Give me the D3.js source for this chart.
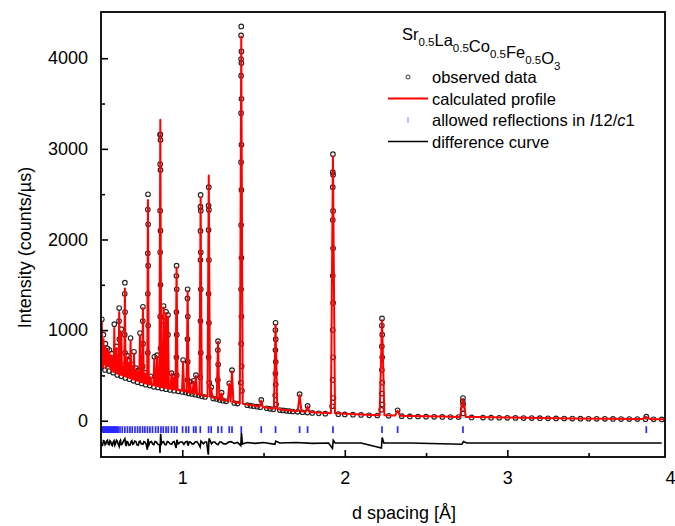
<!DOCTYPE html>
<html>
<head>
<meta charset="utf-8">
<script src="https://cdn.jsdelivr.net/npm/d3@7"></script>
<style>
  body { margin: 0; background: #fff; }
  svg { font-family: "Liberation Sans", Arial, sans-serif; }
</style>
</head>
<body>
<svg id="chart" width="675" height="526"></svg>
<script>
// Tick values
const xTicks = [1, 2, 3, 4];
const xMinorTicks = [1.5, 2.5, 3.5];
const yTicks = [0, 1000, 2000, 3000, 4000];
const yMinorTicks = [500, 1500, 2500, 3500];

// Calculated background under the peaks: [d, intensity]
const background = [
  [0.50, 600], [0.55, 560], [0.60, 520], [0.65, 490], [0.70, 455], [0.75, 425],
  [0.80, 400], [0.85, 380], [0.90, 360], [0.95, 345], [1.00, 330], [1.05, 310],
  [1.10, 290], [1.15, 270], [1.20, 250], [1.25, 228], [1.30, 210], [1.35, 195],
  [1.40, 180], [1.45, 165], [1.50, 150], [1.60, 125], [1.70, 108], [1.80, 95],
  [1.90, 85], [2.00, 78], [2.10, 70], [2.20, 62], [2.40, 53], [2.60, 46],
  [2.80, 40], [3.00, 35], [3.20, 30], [3.40, 26], [3.60, 22], [3.80, 19], [3.97, 16],
];

// Peaks: [d, calculated top, observed top]
const peaks = [
  [0.505, 1080, 1120], [0.515, 900, 950], [0.521, 760, 780], [0.527, 820, 850],
  [0.534, 700, 720], [0.540, 780, 800], [0.546, 690, 700], [0.552, 750, 780],
  [0.558, 660, 680], [0.565, 720, 740], [0.572, 650, 660], [0.582, 1030, 1066],
  [0.588, 640, 650], [0.595, 800, 820], [0.603, 620, 640], [0.612, 1200, 1243],
  [0.625, 980, 1010], [0.636, 600, 610], [0.647, 1460, 1523], [0.660, 700, 720],
  [0.670, 640, 660], [0.682, 880, 912], [0.692, 600, 620], [0.703, 740, 760],
  [0.715, 560, 580], [0.728, 540, 555], [0.740, 940, 967], [0.758, 1240, 1257],
  [0.770, 520, 530], [0.789, 2436, 2499], [0.805, 480, 490], [0.828, 690, 705],
  [0.845, 710, 724], [0.865, 3320, 3160], [0.885, 1250, 1265], [0.900, 1190, 1202],
  [0.912, 1150, 1166], [0.934, 520, 525], [0.950, 480, 490], [0.965, 1690, 1711],
  [1.005, 650, 669], [1.033, 1430, 1450], [1.048, 420, 430], [1.070, 430, 440],
  [1.084, 495, 503], [1.113, 2462, 2492], [1.163, 2705, 2577], [1.178, 360, 370],
  [1.220, 871, 878], [1.242, 300, 310], [1.289, 405, 414], [1.306, 545, 558],
  [1.363, 4241, 4351], [1.486, 222, 230], [1.574, 1060, 1081], [1.722, 285, 293],
  [1.771, 158, 164], [1.927, 2915, 2941], [2.229, 1110, 1129], [2.325, 112, 116],
  [2.727, 240, 250], [3.855, 40, 45],
];

// Observed points on the flanks of the peaks: [d, intensity]
const observedFlanks = [
  [1.362, 4252], [1.364, 4075], [1.362, 3991], [1.364, 3947], [1.362, 3807], [1.364, 3552],
  [1.362, 3394], [1.364, 3044], [1.362, 2853], [1.364, 2547], [1.362, 2160], [1.364, 1798],
  [1.362, 1450], [1.364, 1150], [1.362, 850], [1.365, 600], [1.360, 420], [1.367, 330],
  [0.864, 3155], [0.866, 3099], [0.864, 2831], [0.866, 2768], [0.864, 2318], [0.866, 2097],
  [0.864, 1859], [0.866, 1500], [0.864, 1150], [0.866, 800], [0.862, 560],
  [0.788, 2330], [0.790, 2168], [0.788, 1847], [0.790, 1711], [0.788, 1400], [0.790, 1050], [0.788, 750],
  [1.112, 2362], [1.114, 2318], [1.112, 2094], [1.114, 1859], [1.112, 1773], [1.114, 1450],
  [1.112, 1100], [1.114, 750], [1.110, 480],
  [1.162, 2373], [1.164, 2326], [1.162, 2105], [1.164, 1773], [1.162, 1400], [1.164, 1080],
  [1.162, 700], [1.166, 420],
  [1.926, 2743], [1.928, 2713], [1.926, 2577], [1.928, 2315], [1.926, 2215], [1.928, 1902],
  [1.926, 1600], [1.928, 1300], [1.926, 1000], [1.928, 700], [1.925, 450], [1.930, 250], [1.922, 160],
  [2.228, 1050], [2.230, 950], [2.228, 820], [2.230, 700], [2.228, 560], [2.230, 420],
  [2.227, 300], [2.232, 180], [2.224, 120],
  [1.573, 1000], [1.575, 900], [1.573, 780], [1.575, 650], [1.573, 520], [1.575, 400],
  [1.572, 280], [1.577, 180],
  [0.964, 1600], [0.966, 1450], [0.964, 1200], [0.966, 950], [0.964, 700], [0.966, 500],
  [1.032, 1350], [1.034, 1150], [1.032, 900], [1.034, 650], [1.032, 450],
  [0.646, 1400], [0.648, 1200], [0.646, 950], [0.648, 750],
  [2.726, 215], [2.728, 180], [2.726, 130], [2.729, 80],
  [0.884, 1100], [0.900, 1050], [0.912, 950], [0.886, 850], [0.901, 700],
  [1.219, 780], [1.221, 620], [1.219, 450],
  [0.757, 1100], [0.759, 850], [0.757, 600],
  [0.611, 1100], [0.613, 900], [0.611, 700],
];

// Observed points along the background: [d, intensity]
const observedBackground = [
  [0.500, 590], [0.525, 560], [0.550, 548], [0.575, 530], [0.600, 505], [0.625, 490],
  [0.650, 472], [0.675, 458], [0.700, 440], [0.725, 425], [0.750, 412], [0.775, 398],
  [0.800, 388], [0.825, 374], [0.850, 368], [0.875, 356], [0.900, 348], [0.925, 340],
  [0.950, 332], [0.975, 325], [1.000, 318], [1.020, 312], [1.040, 302], [1.060, 296],
  [1.080, 288], [1.100, 280], [1.120, 270], [1.140, 262], [1.190, 246], [1.210, 240],
  [1.230, 230], [1.250, 222], [1.270, 214], [1.320, 196], [1.340, 190], [1.400, 172],
  [1.420, 166], [1.440, 160], [1.460, 155], [1.480, 150], [1.520, 138], [1.540, 132],
  [1.560, 126], [1.600, 118], [1.620, 114], [1.640, 110], [1.660, 106], [1.680, 102],
  [1.710, 98], [1.740, 94], [1.770, 90], [1.800, 86], [1.840, 82], [1.880, 78],
  [1.960, 72], [2.00, 70], [2.05, 67], [2.10, 64], [2.15, 60], [2.20, 58], [2.27, 54],
  [2.35, 50], [2.40, 48], [2.45, 47], [2.50, 45], [2.55, 43], [2.60, 42], [2.65, 40],
  [2.70, 40], [2.78, 37], [2.85, 35], [2.90, 34], [2.95, 33], [3.00, 32], [3.05, 31],
  [3.10, 30], [3.15, 29], [3.20, 28], [3.25, 27], [3.30, 26], [3.35, 25], [3.40, 24],
  [3.45, 23], [3.50, 22], [3.55, 21], [3.60, 21], [3.65, 20], [3.70, 19], [3.75, 18],
  [3.80, 18], [3.85, 17], [3.90, 16], [3.95, 15],
];

// Allowed reflection positions (d)
const reflections = [
  0.503, 0.509, 0.515, 0.521, 0.527, 0.533, 0.539, 0.545, 0.551, 0.557, 0.563, 0.569,
  0.575, 0.581, 0.587, 0.593, 0.599, 0.605,
  0.617, 0.631, 0.647, 0.663, 0.678, 0.692, 0.709, 0.725, 0.740, 0.756, 0.770, 0.786,
  0.801, 0.817, 0.836, 0.852, 0.869, 0.883, 0.900, 0.914, 0.934, 0.951, 0.967, 1.002,
  1.023, 1.039, 1.070, 1.084, 1.111, 1.162, 1.178, 1.220, 1.242, 1.289, 1.306, 1.363,
  1.486, 1.574, 1.722, 1.771, 1.927, 2.229, 2.325, 2.727, 3.855,
];

// Difference curve (obs - calc): [d, value]
const difference = [
  [0.500, 10], [0.505, -30], [0.510, -25], [0.515, 25], [0.520, 20], [0.525, -20],
  [0.530, -10], [0.535, 20], [0.540, 30], [0.545, -15], [0.550, -20], [0.555, 25],
  [0.560, 15], [0.565, -20], [0.570, -30], [0.575, 10], [0.580, 25], [0.585, -25],
  [0.590, -5], [0.595, 30], [0.600, 20], [0.606, -15], [0.612, -40], [0.616, 15],
  [0.620, 30], [0.625, -20], [0.630, -15], [0.638, 20], [0.647, 45], [0.651, -10],
  [0.655, -35], [0.660, 15], [0.665, 10], [0.672, -25], [0.680, -20], [0.685, 15],
  [0.690, 25], [0.695, -15], [0.700, -10], [0.708, 20], [0.715, 15], [0.722, -20],
  [0.730, -25], [0.735, 15], [0.740, 20], [0.748, -10], [0.758, -15], [0.764, 15],
  [0.770, 10], [0.778, -15], [0.785, -75], [0.789, 45], [0.795, -20], [0.802, 10],
  [0.810, 15], [0.818, -10], [0.825, -20], [0.832, 15], [0.840, 10], [0.850, -15],
  [0.860, -20], [0.863, -110], [0.867, 100], [0.872, -10], [0.878, 10], [0.885, 15],
  [0.892, -15], [0.900, -20], [0.908, 15], [0.915, 10], [0.925, -10], [0.935, -15],
  [0.942, 10], [0.950, 15], [0.962, -55], [0.967, 35], [0.975, -10], [0.988, 10],
  [1.000, 10], [1.010, -15], [1.020, 10], [1.030, 15], [1.036, -30], [1.042, 10],
  [1.050, 10], [1.060, -10], [1.070, -10], [1.080, 10], [1.090, 15], [1.100, -10],
  [1.110, -45], [1.115, 20], [1.130, -10], [1.140, 10], [1.150, 10], [1.160, -130],
  [1.165, 50], [1.180, -10], [1.190, 10], [1.200, 10], [1.210, -10], [1.220, -20],
  [1.230, 10], [1.240, 10], [1.255, -10], [1.270, -10], [1.285, 10], [1.300, 15],
  [1.320, -5], [1.340, 5], [1.360, -30], [1.364, 110], [1.370, -10], [1.400, 5],
  [1.450, -5], [1.500, 5], [1.570, -15], [1.575, 20], [1.600, 0], [1.700, 5],
  [1.800, -5], [1.900, 0], [1.924, -60], [1.929, 30], [1.940, 0], [2.100, 0],
  [2.225, -55], [2.230, 60], [2.240, 0], [2.400, 0], [2.720, -15], [2.730, 15],
  [2.750, 0], [3.950, 0],
];

const DIFF_OFFSET = -245;
const REFL_Y = [-135, -60];
const PEAK_WIDTH = 0.0065; // half width of a peak, relative to d

const MARGIN = { TOP: 12, RIGHT: 10, BOTTOM: 69, LEFT: 101 };
const WIDTH = 675 - MARGIN.LEFT - MARGIN.RIGHT;
const HEIGHT = 526 - MARGIN.TOP - MARGIN.BOTTOM;

const xScale = d3.scaleLinear().domain([0.5, 3.97]).range([0, WIDTH]);
const yScale = d3.scaleLinear().domain([-400, 4510]).range([HEIGHT, 0]);
const bgAt = d3.scaleLinear()
  .domain(background.map(b => b[0]))
  .range(background.map(b => b[1]))
  .clamp(true);

const svg = d3.select('#chart');
const g = svg.append('g')
  .attr('transform', `translate(${MARGIN.LEFT},${MARGIN.TOP})`);

g.append('clipPath').attr('id', 'plot-clip')
  .append('rect').attr('width', WIDTH).attr('height', HEIGHT);

const plot = g.append('g').attr('clip-path', 'url(#plot-clip)');

// Calculated profile: background plus a triangle for each peak
const vertexD = new Set(background.map(b => b[0]));
peaks.forEach(([d]) => {
  const w = PEAK_WIDTH * d;
  vertexD.add(d - w); vertexD.add(d); vertexD.add(d + w);
});
const profile = Array.from(vertexD).sort((a, b) => a - b).map(d => {
  let value = bgAt(d);
  peaks.forEach(([pd, top]) => {
    const w = PEAK_WIDTH * pd;
    const t = 1 - Math.abs(d - pd) / w;
    if (t > 0) value += (top - bgAt(pd)) * t;
  });
  return [d, value];
});

const line = d3.line()
  .x(p => xScale(p[0]))
  .y(p => yScale(p[1]));

// Observed data circles
const observed = observedBackground
  .concat(observedFlanks)
  .concat(peaks.map(p => [p[0], p[2]]));

plot.append('g')
  .selectAll('circle')
  .data(observed)
  .join('circle')
  .attr('cx', p => xScale(p[0]))
  .attr('cy', p => yScale(p[1]))
  .attr('r', 2.3)
  .attr('fill', 'none')
  .attr('stroke', '#222')
  .attr('stroke-width', 1.1);

plot.append('path')
  .datum(profile)
  .attr('d', line)
  .attr('fill', 'none')
  .attr('stroke', '#ff0000')
  .attr('stroke-width', 2)
  .attr('stroke-linejoin', 'round');

// Reflection markers
plot.append('g')
  .selectAll('line')
  .data(reflections)
  .join('line')
  .attr('x1', d => xScale(d))
  .attr('x2', d => xScale(d))
  .attr('y1', yScale(REFL_Y[0]))
  .attr('y2', yScale(REFL_Y[1]))
  .attr('stroke', '#2a2aff')
  .attr('stroke-width', 1.7);

// Difference curve
plot.append('path')
  .datum(difference)
  .attr('d', d3.line()
    .x(p => xScale(p[0]))
    .y(p => yScale(DIFF_OFFSET + p[1])))
  .attr('fill', 'none')
  .attr('stroke', '#000')
  .attr('stroke-width', 1.6);

// Axes with inward ticks
const xAxis = g.append('g')
  .attr('transform', `translate(0,${HEIGHT})`)
  .call(d3.axisBottom(xScale).tickValues(xTicks).tickSize(-7).tickPadding(14)
    .tickFormat(d3.format('d')));
xAxis.selectAll('.tick').filter(d => d > 3.97).select('line').remove();
g.append('g')
  .attr('transform', `translate(0,${HEIGHT})`)
  .call(d3.axisBottom(xScale).tickValues(xMinorTicks).tickSize(-4).tickFormat(''));

g.append('g')
  .call(d3.axisLeft(yScale).tickValues(yTicks).tickSize(-7).tickPadding(13)
    .tickFormat(d3.format('d')));
g.append('g')
  .call(d3.axisLeft(yScale).tickValues(yMinorTicks).tickSize(-4).tickFormat(''));

g.selectAll('.domain').remove();
g.selectAll('.tick line').attr('stroke', '#000').attr('stroke-width', 1.6);
g.selectAll('.tick text')
  .attr('fill', '#000')
  .style('font-size', '18px')
  .style('font-family', '"Liberation Sans", Arial, sans-serif');

g.append('rect')
  .attr('width', WIDTH)
  .attr('height', HEIGHT)
  .attr('fill', 'none')
  .attr('stroke', '#000')
  .attr('stroke-width', 1.8);

// Axis labels
svg.append('text')
  .attr('transform', `translate(31,${MARGIN.TOP + HEIGHT / 2 + 13}) rotate(-90)`)
  .style('text-anchor', 'middle')
  .style('font-size', '18px')
  .text('Intensity (counts/µs)');

svg.append('text')
  .attr('x', 404)
  .attr('y', 519)
  .style('text-anchor', 'middle')
  .style('font-size', '18px')
  .text('d spacing [Å]');

// Legend
const title = svg.append('text')
  .attr('x', 402)
  .attr('y', 40)
  .style('font-size', '16.5px');
[['Sr', '0.5'], ['La', '0.5'], ['Co', '0.5'], ['Fe', '0.5'], ['O', '3']].forEach(([el, sub]) => {
  title.append('tspan').text(el);
  title.append('tspan').attr('dy', 6).style('font-size', '11.5px').text(sub);
  title.append('tspan').attr('dy', -6).text('');
});

const legend = svg.append('g').style('font-size', '16.5px');
const rows = [77, 98.5, 120, 141.5];
legend.append('circle')
  .attr('cx', 408).attr('cy', rows[0]).attr('r', 2)
  .attr('fill', 'none').attr('stroke', '#333');
legend.append('line')
  .attr('x1', 388).attr('x2', 428).attr('y1', rows[1]).attr('y2', rows[1])
  .attr('stroke', '#ff0000').attr('stroke-width', 2);
legend.append('line')
  .attr('x1', 408).attr('x2', 408).attr('y1', rows[2] - 3).attr('y2', rows[2] + 3)
  .attr('stroke', '#8080ff').attr('stroke-width', 1);
legend.append('line')
  .attr('x1', 388).attr('x2', 428).attr('y1', rows[3]).attr('y2', rows[3])
  .attr('stroke', '#000').attr('stroke-width', 1.5);

const labels = ['observed data', 'calculated profile', null, 'difference curve'];
labels.forEach((txt, i) => {
  if (!txt) return;
  legend.append('text').attr('x', 432).attr('y', rows[i] + 6).text(txt);
});
const refl = legend.append('text').attr('x', 432).attr('y', rows[2] + 6);
refl.append('tspan').text('allowed reflections in ');
refl.append('tspan').style('font-style', 'italic').text('I');
refl.append('tspan').text('12/');
refl.append('tspan').style('font-style', 'italic').text('c');
refl.append('tspan').text('1');
</script>
</body>
</html>
